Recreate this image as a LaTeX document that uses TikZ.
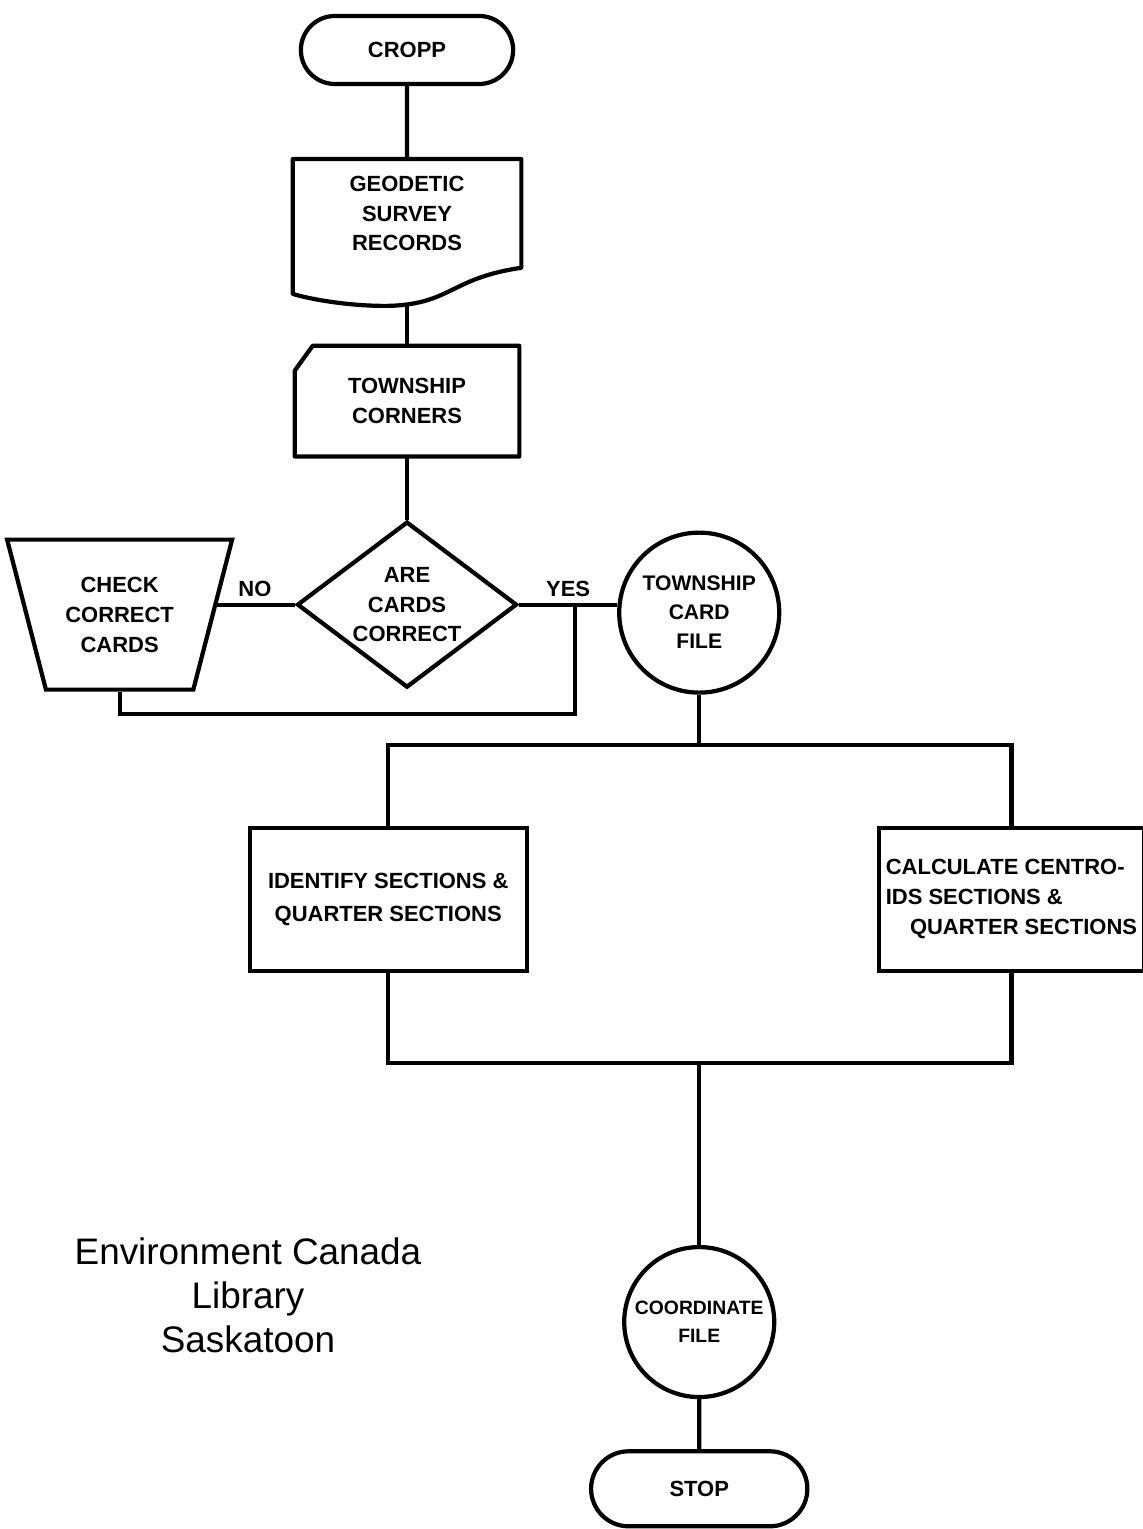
\documentclass[tikz,border=0pt]{standalone}
\usepackage{fontspec}
\setmainfont{Liberation Sans}
\usepackage{tikz}
\usetikzlibrary{shapes.geometric, shapes.misc, positioning, calc}
\tikzset{
    flowfont/.style = {font=\bfseries\fontsize{12.5}{17}\selectfont},
    terminal/.style = {rounded rectangle, draw, line width=2.4pt, flowfont, minimum width=4.48cm, minimum height=1.36cm},
    docbox/.style = {rectangle, flowfont, align=center, minimum width=4.56cm, minimum height=2.16cm, inner sep=0pt},
    cardbox/.style = {rectangle, flowfont, align=center, minimum width=4.48cm, minimum height=2.2cm, inner sep=0pt},
    decision/.style = {diamond, draw, line width=2.4pt, flowfont, align=center, aspect=1.33, inner sep=-4pt, minimum width=4.4cm, minimum height=3.32cm},
    manualop/.style = {trapezium, draw, line width=2.4pt, flowfont, align=center, trapezium left angle=70, trapezium right angle=70, shape border rotate=180, trapezium stretches=true, minimum width=4.5cm, minimum height=3cm},
    store/.style = {circle, draw, line width=2.4pt, flowfont, align=center, inner sep=0pt},
    procbox/.style = {rectangle, draw, line width=2.4pt, flowfont, minimum height=2.86cm},
    link/.style = {line width=2.4pt, -},
    outline/.style = {line width=2.4pt, line join=round}
}
\begin{document}
\begin{tikzpicture}[node distance=1cm and 1cm]
\useasboundingbox (0,0) rectangle (22.84,-30.58);

\node (cropp) [terminal] at (8.14,-1.00) {CROPP};
\node (geo) [docbox, below=1.46cm of cropp] {GEODETIC\\SURVEY\\RECORDS};
\node (corners) [cardbox, below=1.56cm of geo] {TOWNSHIP\\CORNERS};
\node (dia) [decision, below=1.26cm of corners] {ARE\\CARDS\\CORRECT};
\node (check) [manualop, left=1.6cm of dia, yshift=-0.2cm] {CHECK\\CORRECT\\CARDS};
\node (file) [store, minimum size=3.2cm, right=1.96cm of dia, yshift=-0.16cm, font=\bfseries\fontsize{12}{16.5}\selectfont] {TOWNSHIP\\CARD\\FILE};
\node (ident) [procbox, minimum width=5.54cm, align=center, below=2.62cm of file, xshift=-6.22cm] {IDENTIFY SECTIONS \&\\[2pt]QUARTER SECTIONS};
\node (calc) [procbox, minimum width=5.3cm, align=left, right=6.96cm of ident] {CALCULATE CENTRO-\\IDS SECTIONS \&\\\hspace{1.1em}QUARTER SECTIONS};

% document and card outlines
\draw [outline] (geo.south east) .. controls +(-1.4,-0.2) and +(1.2,0.05) .. ($(geo.south east)+(-2.6,-0.76)$)
    .. controls +(-0.8,-0.02) and +(0.3,-0.1) .. ($(geo.south west)+(0,-0.52)$)
    -- (geo.north west) -- (geo.north east) -- cycle;
\draw [outline] ($(corners.north west)+(0,-0.5)$) -- ($(corners.north west)+(0.36,0)$) -- (corners.north east)
    -- (corners.south east) -- (corners.south west) -- cycle;

\coordinate (geo-bot) at ($(geo.south)+(0,-0.74)$);
\coordinate (loop) at ($(dia.east)!0.57!(dia.east -| file.west)$);
\coordinate (low) at ($(check.south)+(0,-0.44)$);
\coordinate (bus1) at ($(file.south)+(0,-1.0)$);
\coordinate (bus2) at ($(file.south |- ident.south)+(0,-1.8)$);

\node (coord) [store, minimum size=3.0cm, below=3.64cm of bus2, font=\bfseries\fontsize{11}{16}\selectfont] {COORDINATE\\FILE};
\node (stop) [terminal, minimum width=4.56cm, minimum height=1.5cm, below=1.0cm of coord] {STOP};

\node (lib) [align=center, font=\fontsize{21}{25}\selectfont] at (4.96,-25.9) {Environment Canada\\Library\\Saskatoon};

\draw [link] (cropp) -- (geo);
\draw [link] (geo-bot) -- (corners);
\draw [link] (corners) -- (dia);
\draw [link] (check.east |- dia.west) -- node[above, flowfont] {NO} (dia.west);
\draw [link] (dia.east) -- node[above, flowfont] {YES} (dia.east -| file.west);
\draw [link] (loop) -- (loop |- low) -| (check.south);
\draw [link] (file.south) -- (bus1);
\draw [link] (ident.north) |- (bus1) -| (calc.north);
\draw [link] (ident.south) |- (bus2) -| (calc.south);
\draw [link] (bus2) -- (coord);
\draw [link] (coord) -- (stop);
\end{tikzpicture}
\end{document}
